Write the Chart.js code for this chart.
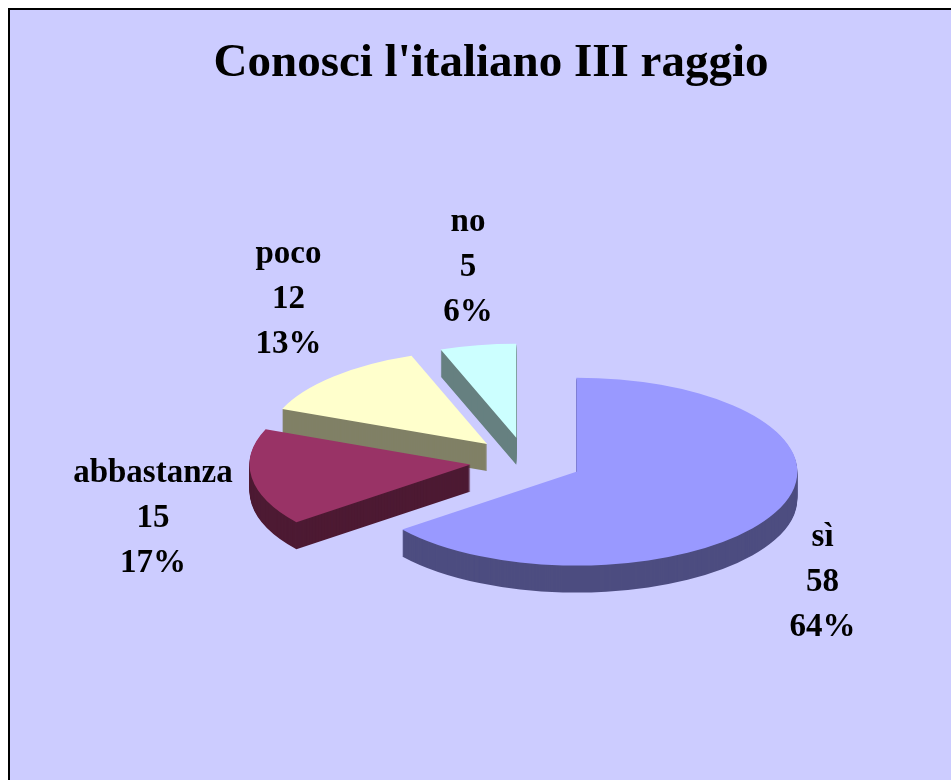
<!DOCTYPE html>
<html>
<head>
<meta charset="utf-8">
<script src="https://cdn.jsdelivr.net/npm/chart.js@4"></script>
<style>
  html, body { margin: 0; padding: 0; background: #fff; overflow: hidden; }
  #frame { position: absolute; left: 8px; top: 8px; width: 962px; height: 790px;
           border: 2px solid #000; background: #ccccff; }
  canvas { display: block; }
</style>
</head>
<body>
<div id="frame"><canvas id="pie" width="962" height="790"></canvas></div>
<script>
// dati del grafico
const categories = ['sì', 'abbastanza', 'poco', 'no'];
const answers = [58, 15, 12, 5];
const topColors = ['#9999ff', '#993366', '#ffffcc', '#ccffff'];
const sideColors = ['#4d4d80', '#4d1a33', '#808066', '#668080'];

// vista 3D
const tilt = 0.425;   // schiacciamento verticale
const depth = 27;     // spessore della torta
const explode = 56;   // distacco delle fette
const shiftX = 35;    // spostamento orizzontale della torta

const total = answers.reduce((a, b) => a + b, 0);

// copia di un arco con un altro colore, per disegnare i fianchi
function ghost(el, color) {
    const g = Object.create(el);
    g.options = Object.assign({}, el.options, { backgroundColor: color, borderWidth: 0, offset: 0 });
    return g;
}

const pie3d = {
    id: 'pie3d',
    beforeDatasetsDraw(chart) {
        const ctx = chart.ctx;
        const arcs = chart.getDatasetMeta(0).data;
        const cx = arcs[0].x, cy = arcs[0].y;

        const project = (dy) => {
            ctx.translate(cx + shiftX, cy + dy);
            ctx.scale(1, tilt);
            ctx.translate(-cx, -cy);
        };
        const place = (el) => {
            const mid = (el.startAngle + el.endAngle) / 2;
            ctx.translate(Math.cos(mid) * explode, Math.sin(mid) * explode);
        };

        // fianchi
        for (let d = depth; d > 0; d--) {
            arcs.forEach((el, i) => {
                ctx.save();
                project(d);
                place(el);
                ghost(el, sideColors[i]).draw(ctx);
                ctx.restore();
            });
        }
        // facce superiori
        arcs.forEach((el) => {
            ctx.save();
            project(0);
            place(el);
            el.draw(ctx);
            ctx.restore();
        });
        return false;
    },
    afterDraw(chart) {
        const ctx = chart.ctx;
        const arcs = chart.getDatasetMeta(0).data;
        const cx = arcs[0].x, cy = arcs[0].y;
        const lineGap = 45;
        ctx.save();
        ctx.font = 'bold 33px "Liberation Serif"';
        ctx.fillStyle = '#000';
        ctx.textAlign = 'center';
        ctx.textBaseline = 'middle';
        arcs.forEach((el, i) => {
            const mid = (el.startAngle + el.endAngle) / 2;
            const c = Math.cos(mid), s = Math.sin(mid);
            const r = el.outerRadius + explode;
            const lines = [categories[i], String(answers[i]), Math.round(answers[i] / total * 100) + '%'];
            const w = Math.max(...lines.map(t => ctx.measureText(t).width));
            const half = lineGap * 1.5;
            // punto sul bordo della fetta, poi etichetta spinta all'esterno
            const x = cx + shiftX + r * c + c * (w / 2 + (s < 0 ? 32 : 20));
            const y = cy + r * s * tilt + (s < 0 ? -(half + 10) : depth + s * (half + 30));
            lines.forEach((t, j) => ctx.fillText(t, x, y + (j - 1) * lineGap));
        });
        ctx.restore();
    }
};

new Chart(document.getElementById('pie').getContext('2d'), {
    type: 'pie',
    data: {
        labels: categories,
        datasets: [{
            data: answers,
            backgroundColor: topColors,
            borderWidth: 0,
            radius: 221
        }]
    },
    options: {
        responsive: false,
        animation: false,
        events: [],
        plugins: {
            legend: { display: false },
            tooltip: { enabled: false },
            title: {
                display: true,
                text: "Conosci l'italiano III raggio",
                color: '#000',
                font: { family: 'Liberation Serif', size: 47, weight: 'bold' },
                padding: { top: 26, bottom: 30 }
            }
        }
    },
    plugins: [pie3d]
});
</script>
</body>
</html>
